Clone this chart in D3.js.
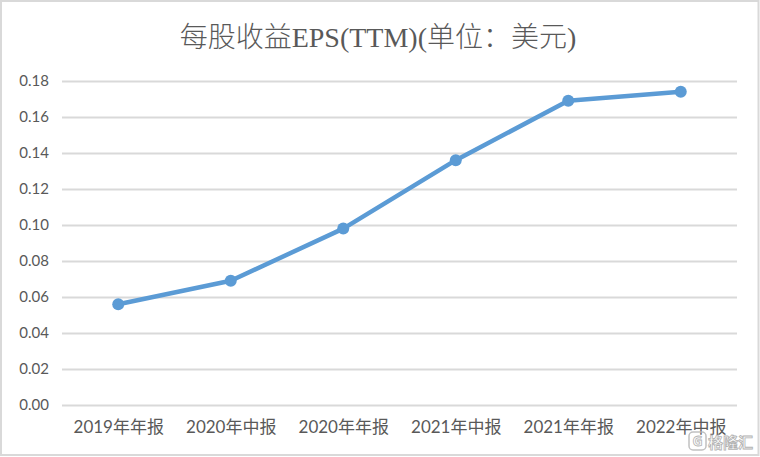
<!DOCTYPE html>
<html><head><meta charset="utf-8">
<script src="https://cdn.jsdelivr.net/npm/d3@7"></script>
<style>html,body{margin:0;padding:0;background:#fff;}svg{display:block;}</style>
</head><body>
<svg id="c" width="760" height="457"></svg>
<script>
const categories = ["2019年年报","2020年中报","2020年年报","2021年中报","2021年年报","2022年中报"];
const eps = [0.056, 0.069, 0.098, 0.136, 0.169, 0.174];
const yTicks = [0,0.02,0.04,0.06,0.08,0.10,0.12,0.14,0.16,0.18];
const title = "每股收益EPS(TTM)(单位：美元)";

(function(){
const svg = d3.select("#c");
const W = 760, H = 457;
svg.append("rect").attr("x",1).attr("y",1).attr("width",W-2.5).attr("height",H-3)
  .attr("fill","#fff").attr("stroke","#d9d9d9").attr("stroke-width",2);

const pL = 62, pR = 737, pT = 81, pB = 405;
const x = d3.scalePoint().domain(categories).range([pL, pR]).padding(0.5);
const y = d3.scaleLinear().domain([0, 0.18]).range([pB, pT]);

const yAxis = d3.axisLeft(y).tickValues(yTicks).tickFormat(d3.format(".2f"))
  .tickSize(-(pR-pL)).tickPadding(12);
const gy = svg.append("g").attr("transform",`translate(${pL},0)`).call(yAxis);
gy.select(".domain").remove();
gy.selectAll(".tick line").attr("stroke","#d9d9d9").attr("stroke-width",2);
gy.selectAll(".tick text").attr("fill","#595959").style("font-family","Lato, 'Noto Sans', sans-serif")
  .style("font-size","15px").attr("x",-13);

const xAxis = d3.axisBottom(x).tickSize(0).tickPadding(16);
const gx = svg.append("g").attr("transform",`translate(0,${pB})`).call(xAxis);
gx.select(".domain").remove();
gx.selectAll(".tick text").attr("fill","#595959")
  .style("font-family","Lato, 'Noto Sans CJK SC', sans-serif").style("font-size","17px");

const line = d3.line().x((d,i)=>x(categories[i])).y(d=>y(d));
svg.append("path").datum(eps).attr("d",line).attr("fill","none")
  .attr("stroke","#5b9bd5").attr("stroke-width",4.5).attr("stroke-linejoin","round");
svg.selectAll("circle.pt").data(eps).enter().append("circle").attr("class","pt")
  .attr("cx",(d,i)=>x(categories[i])).attr("cy",d=>y(d)).attr("r",6).attr("fill","#5b9bd5");

svg.append("text").attr("x",378).attr("y",47).attr("text-anchor","middle")
  .attr("fill","#595959").style("font-family","'Liberation Serif', 'Noto Sans CJK SC', serif")
  .style("font-size","28px").style("font-weight","300").text(title);

const wm = svg.append("g").attr("opacity",0.9);
wm.append("rect").attr("x",689).attr("y",432).attr("width",17).attr("height",18).attr("rx",4)
  .attr("fill","none").attr("stroke","#bbb").attr("stroke-width",1.5);
wm.append("text").attr("x",697.5).attr("y",446).attr("text-anchor","middle").attr("fill","#fff")
  .attr("stroke","#aaa").attr("stroke-width",0.8).style("font-family","'Noto Sans', sans-serif")
  .style("font-size","14px").style("font-weight","bold").text("G");
wm.append("text").attr("x",708).attr("y",448).attr("fill","#fff").attr("stroke","#aaa").attr("stroke-width",0.8)
  .style("font-family","'Noto Sans CJK SC', sans-serif").style("font-size","15px").style("font-weight","bold").text("格隆汇");
})();
</script>
</body></html>
